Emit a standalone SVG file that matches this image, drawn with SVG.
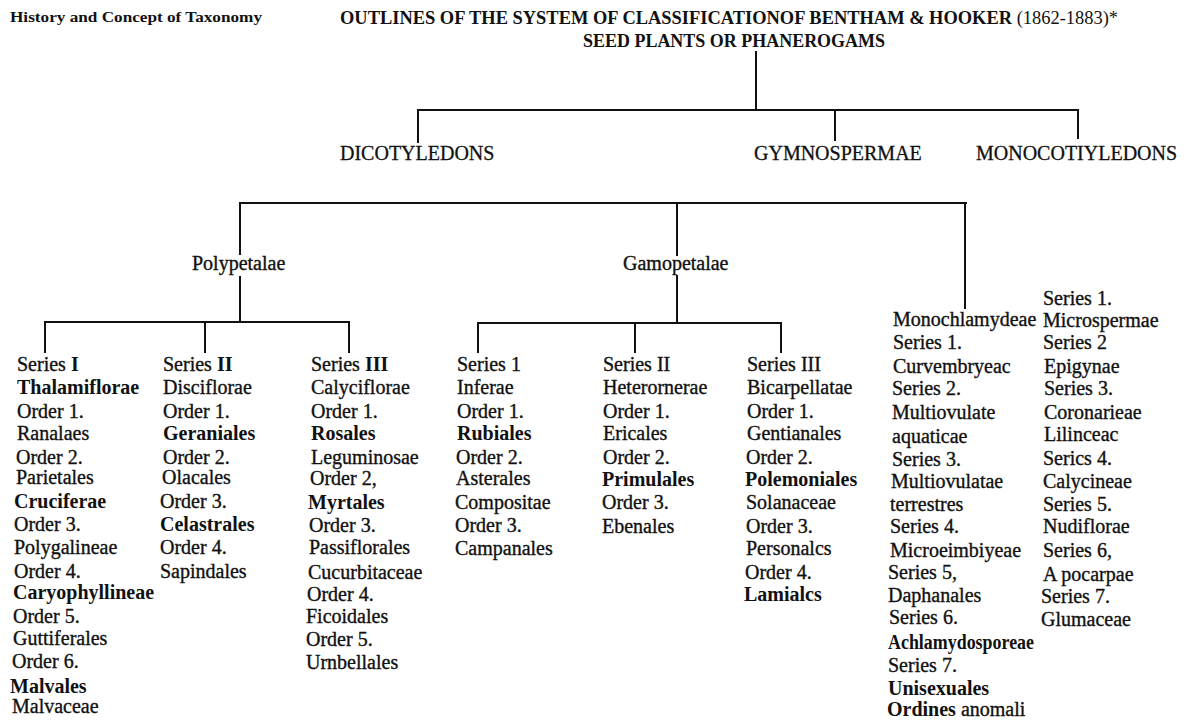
<svg xmlns="http://www.w3.org/2000/svg" width="1193" height="724" viewBox="0 0 1193 724">
<style>
text{font-family:"Liberation Serif","Times New Roman",serif;fill:#111;}
.t{font-size:20px;stroke:#111;stroke-width:0.35px;}
.b{font-weight:bold;stroke-width:0;}
.hd{font-size:18px;font-weight:bold;}
.small{font-size:15px;font-weight:bold;}
.cap{font-size:20px;stroke:#111;stroke-width:0.3px;}
.ln{stroke:#111;stroke-width:2;fill:none;stroke-linecap:square;}
</style>
<rect width="1193" height="724" fill="#fff"/>
<g id="header">
<text class="small" x="10" y="22" textLength="252" lengthAdjust="spacingAndGlyphs">History and Concept of Taxonomy</text>
<text class="hd" x="340" y="24" textLength="778" lengthAdjust="spacingAndGlyphs">OUTLINES OF THE SYSTEM OF CLASSIFICATIONOF BENTHAM &amp; HOOKER <tspan font-weight="normal">(1862-1883)*</tspan></text>
</g>
<g id="root"><text class="hd" x="583" y="47" textLength="302" lengthAdjust="spacingAndGlyphs">SEED PLANTS OR PHANEROGAMS</text></g>
<g id="connectors">
<path class="ln" d="M756 52V110M418 110H1078M418 110V142M835 110V140M1078 110V138"/>
<path class="ln" d="M240 203H966M240 203V254M240 277V322M677 203V255M677 276V323M965 203V308"/>
<path class="ln" d="M45 322H349M45 322V352M205 322V352M349 322V352"/>
<path class="ln" d="M478 323H781M478 323V352M635 323V352M781 323V352"/>
</g>
<g id="dicotyledons"><text class="cap" x="340" y="160">DICOTYLEDONS</text></g>
<g id="gymnospermae"><text class="cap" x="754" y="160">GYMNOSPERMAE</text></g>
<g id="monocotyledons"><text class="cap" x="976" y="160">MONOCOTIYLEDONS</text></g>
<g id="polypetalae"><text class="t" x="192" y="270">Polypetalae</text></g>
<g id="gamopetalae"><text class="t" x="623" y="270">Gamopetalae</text></g>
<g id="series-thalamiflorae">
<text class="t" x="17" y="371">Series <tspan class="b">I</tspan></text>
<text class="t b" x="17" y="394">Thalamiflorae</text>
<text class="t" x="17" y="418">Order 1.</text>
<text class="t" x="17" y="440">Ranalaes</text>
<text class="t" x="16" y="464">Order 2.</text>
<text class="t" x="16" y="484">Parietales</text>
<text class="t b" x="14" y="508">Cruciferae</text>
<text class="t" x="14" y="531">Order 3.</text>
<text class="t" x="14" y="554">Polygalineae</text>
<text class="t" x="14" y="578">Order 4.</text>
<text class="t b" x="13" y="599">Caryophyllineae</text>
<text class="t" x="13" y="623">Order 5.</text>
<text class="t" x="13" y="645">Guttiferales</text>
<text class="t" x="12" y="668">Order 6.</text>
<text class="t b" x="10" y="693">Malvales</text>
<text class="t" x="12" y="713">Malvaceae</text>
</g>
<g id="series-disciflorae">
<text class="t" x="163" y="371">Series <tspan class="b">II</tspan></text>
<text class="t" x="163" y="394">Disciflorae</text>
<text class="t" x="163" y="418">Order 1.</text>
<text class="t b" x="163" y="440">Geraniales</text>
<text class="t" x="163" y="464">Order 2.</text>
<text class="t" x="162" y="484">Olacales</text>
<text class="t" x="160" y="508">Order 3.</text>
<text class="t b" x="160" y="531">Celastrales</text>
<text class="t" x="160" y="554">Order 4.</text>
<text class="t" x="160" y="578">Sapindales</text>
</g>
<g id="series-calyciflorae">
<text class="t" x="311" y="371">Series <tspan class="b">III</tspan></text>
<text class="t" x="311" y="394">Calyciflorae</text>
<text class="t" x="311" y="418">Order 1.</text>
<text class="t b" x="311" y="440">Rosales</text>
<text class="t" x="311" y="464">Leguminosae</text>
<text class="t" x="310" y="485">Order 2,</text>
<text class="t b" x="308" y="509">Myrtales</text>
<text class="t" x="309" y="532">Order 3.</text>
<text class="t" x="309" y="554">Passiflorales</text>
<text class="t" x="308" y="579">Cucurbitaceae</text>
<text class="t" x="307" y="601">Order 4.</text>
<text class="t" x="306" y="623">Ficoidales</text>
<text class="t" x="306" y="646">Order 5.</text>
<text class="t" x="306" y="669">Urnbellales</text>
</g>
<g id="series-inferae">
<text class="t" x="457" y="371">Series 1</text>
<text class="t" x="457" y="394">Inferae</text>
<text class="t" x="457" y="418">Order 1.</text>
<text class="t b" x="457" y="440">Rubiales</text>
<text class="t" x="456" y="464">Order 2.</text>
<text class="t" x="456" y="485">Asterales</text>
<text class="t" x="455" y="509">Compositae</text>
<text class="t" x="455" y="532">Order 3.</text>
<text class="t" x="455" y="555">Campanales</text>
</g>
<g id="series-heteromerae">
<text class="t" x="603" y="371">Series II</text>
<text class="t" x="603" y="394">Heterornerae</text>
<text class="t" x="603" y="418">Order 1.</text>
<text class="t" x="603" y="440">Ericales</text>
<text class="t" x="603" y="464">Order 2.</text>
<text class="t b" x="602" y="486">Primulales</text>
<text class="t" x="602" y="509">Order 3.</text>
<text class="t" x="602" y="533">Ebenales</text>
</g>
<g id="series-bicarpellatae">
<text class="t" x="747" y="371">Series III</text>
<text class="t" x="747" y="394">Bicarpellatae</text>
<text class="t" x="747" y="418">Order 1.</text>
<text class="t" x="747" y="440">Gentianales</text>
<text class="t" x="746" y="464">Order 2.</text>
<text class="t b" x="745" y="486">Polemoniales</text>
<text class="t" x="746" y="509">Solanaceae</text>
<text class="t" x="746" y="533">Order 3.</text>
<text class="t" x="746" y="555">Personalcs</text>
<text class="t" x="745" y="579">Order 4.</text>
<text class="t b" x="744" y="601">Lamialcs</text>
</g>
<g id="monochlamydeae">
<text class="t" x="893" y="326">Monochlamydeae</text>
<text class="t" x="893" y="349">Series 1.</text>
<text class="t" x="893" y="373">Curvembryeac</text>
<text class="t" x="892" y="395">Series 2.</text>
<text class="t" x="892" y="419">Multiovulate</text>
<text class="t" x="892" y="443">aquaticae</text>
<text class="t" x="892" y="466">Series 3.</text>
<text class="t" x="891" y="488">Multiovulatae</text>
<text class="t" x="890" y="511">terrestres</text>
<text class="t" x="890" y="533">Series 4.</text>
<text class="t" x="890" y="557">Microeimbiyeae</text>
<text class="t" x="888" y="579">Series 5,</text>
<text class="t" x="888" y="602">Daphanales</text>
<text class="t" x="889" y="624">Series 6.</text>
<text class="t b" x="888" y="649" textLength="146" lengthAdjust="spacingAndGlyphs">Achlamydosporeae</text>
<text class="t" x="888" y="672">Series 7.</text>
<text class="t b" x="888" y="695">Unisexuales</text>
<text class="t" x="887" y="716"><tspan class="b">Ordines</tspan> anomali</text>
</g>
<g id="monocot-series">
<text class="t" x="1043" y="305">Series 1.</text>
<text class="t" x="1043" y="327">Microspermae</text>
<text class="t" x="1043" y="349">Series 2</text>
<text class="t" x="1044" y="373">Epigynae</text>
<text class="t" x="1044" y="395">Series 3.</text>
<text class="t" x="1044" y="419">Coronarieae</text>
<text class="t" x="1044" y="441">Lilinceac</text>
<text class="t" x="1043" y="465">Serics 4.</text>
<text class="t" x="1043" y="488">Calycineae</text>
<text class="t" x="1043" y="511">Series 5.</text>
<text class="t" x="1043" y="533">Nudiflorae</text>
<text class="t" x="1043" y="557">Series 6,</text>
<text class="t" x="1043" y="581">A pocarpae</text>
<text class="t" x="1041" y="603">Series 7.</text>
<text class="t" x="1041" y="626">Glumaceae</text>
</g>
</svg>
